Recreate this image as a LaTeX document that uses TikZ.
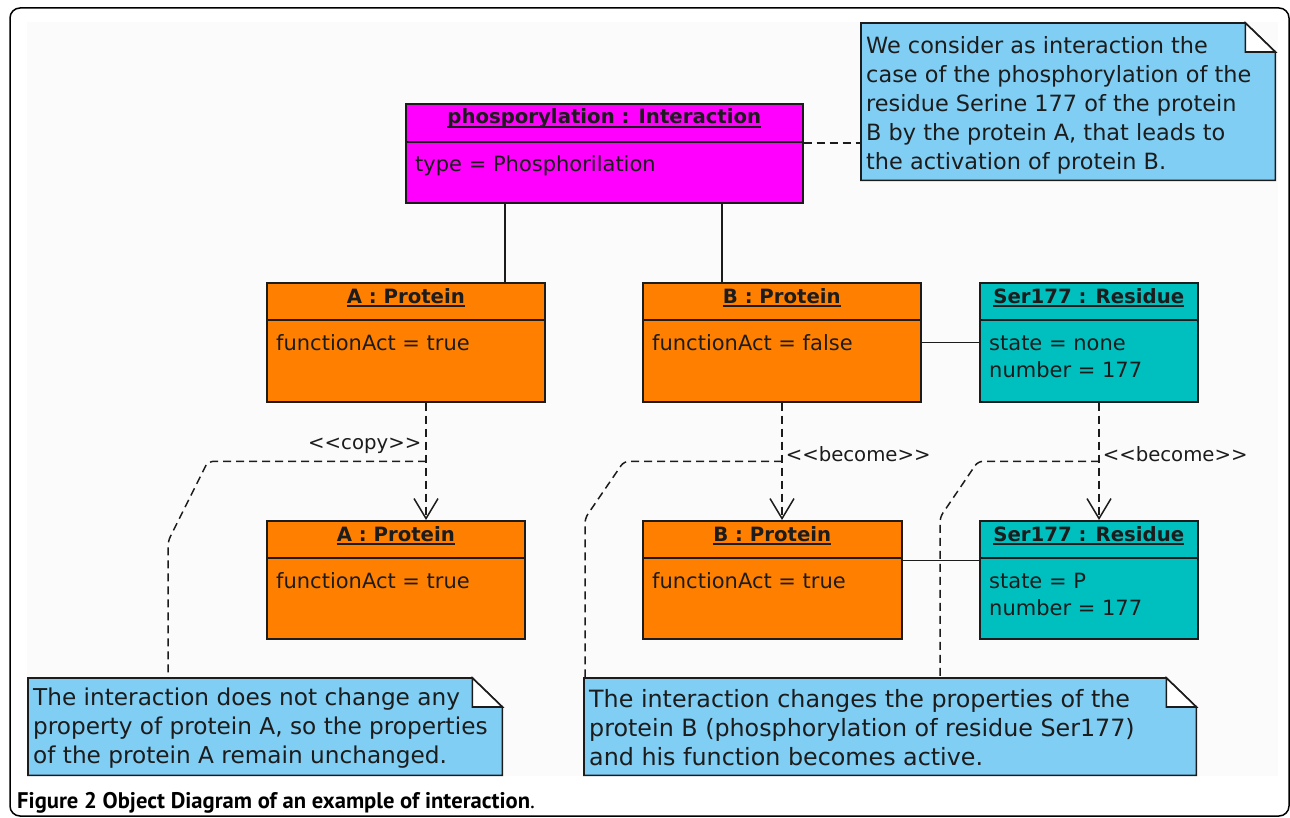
\documentclass[tikz,border=0pt]{standalone}
\usepackage{fontspec}
\setmainfont{DejaVu Sans}
\newfontfamily\capfont{PT Sans}
\usetikzlibrary{arrows.meta,calc}
\definecolor{umlmag}{RGB}{255,0,255}
\definecolor{umlorange}{RGB}{255,128,0}
\definecolor{umlteal}{RGB}{0,191,191}
\definecolor{notebg}{RGB}{128,206,244}
\definecolor{inkc}{RGB}{28,28,28}
\definecolor{pagebg}{RGB}{250,251,250}
\newcommand{\noteshape}[1]{%
  \path[fill=notebg,draw=inkc,line width=1.6pt,line join=miter]
    (#1.north west) -- ([xshift=-30pt]#1.north east) -- ([yshift=-29pt]#1.north east)
    -- (#1.south east) -- (#1.south west) -- cycle;
  \path[fill=white,draw=inkc,line width=1.6pt]
    ([xshift=-30pt]#1.north east) -- ([xshift=-30pt,yshift=-29pt]#1.north east)
    -- ([yshift=-29pt]#1.north east) -- cycle;}
\newcommand{\ulineof}[1]{%
  \draw[inkc,line width=1.3pt] ([yshift=-3pt]#1.base west) -- ([yshift=-3pt]#1.base east);}
\begin{document}
\begin{tikzpicture}[x=1pt,y=-1pt,
  objbox/.style={draw=inkc,line width=1.6pt,anchor=north west,inner sep=0pt,rectangle},
  notebox/.style={anchor=north west,inner sep=0pt,rectangle},
  divider/.style={draw=inkc,line width=1.6pt},
  ttl/.style={font=\bfseries\fontsize{19.7}{24}\selectfont,text=inkc,anchor=base,inner sep=0pt},
  attr/.style={font=\fontsize{21}{27}\selectfont,text=inkc,anchor=base west,inner sep=0pt},
  notetext/.style={font=\fontsize{22.4}{29}\selectfont,text=inkc,anchor=north west,inner sep=0pt,align=left},
  stereo/.style={font=\fontsize{19.7}{24}\selectfont,text=inkc,inner sep=0pt},
  link/.style={draw=inkc,line width=1.5pt},
  dep/.style={draw=inkc,line width=1.5pt,dash pattern=on 8pt off 5pt},
  deparrow/.style={dep,-{Straight Barb[length=20pt,width=24pt,line width=1.5pt]}}
]
\useasboundingbox (0,0) rectangle (1290,818);
% frame and page
\draw[line width=1.5pt,rounded corners=10pt] (10,8) rectangle (1289,816);
\fill[pagebg] (27,22) rectangle (1278,776);

% ---------- phosphorylation object
\node[objbox,fill=umlmag,minimum width=397pt,minimum height=99pt] (P) at (405,103) {};
\draw[divider] ([yshift=-39pt]P.north west) -- ([yshift=-39pt]P.north east);
\node[ttl] (Pt) at ([yshift=-21pt]P.north) {phosporylation : Interaction};
\ulineof{Pt}
\node[attr] (Pa) at ([xshift=10pt,yshift=-69pt]P.north west) {type = Phosphorilation};

% ---------- A : Protein (top)
\node[objbox,fill=umlorange,minimum width=278pt,minimum height=119pt] (A1) at (266,282) {};
\draw[divider] ([yshift=-38pt]A1.north west) -- ([yshift=-38pt]A1.north east);
\node[ttl] (A1t) at ([yshift=-21pt]A1.north) {A : Protein};
\ulineof{A1t}
\node[attr] (A1a) at ([xshift=10pt,yshift=-68pt]A1.north west) {functionAct = true};

% ---------- B : Protein (top)
\node[objbox,fill=umlorange,minimum width=278pt,minimum height=119pt] (B1) at (642,282) {};
\draw[divider] ([yshift=-38pt]B1.north west) -- ([yshift=-38pt]B1.north east);
\node[ttl] (B1t) at ([yshift=-21pt]B1.north) {B : Protein};
\ulineof{B1t}
\node[attr] (B1a) at ([xshift=10pt,yshift=-68pt]B1.north west) {functionAct = false};

% ---------- Ser177 : Residue (top)
\node[objbox,fill=umlteal,minimum width=218pt,minimum height=119pt] (S1) at (979,282) {};
\draw[divider] ([yshift=-38pt]S1.north west) -- ([yshift=-38pt]S1.north east);
\node[ttl] (S1t) at ([yshift=-21pt]S1.north) {Ser177 : Residue};
\ulineof{S1t}
\node[attr] (S1a) at ([xshift=10pt,yshift=-68pt]S1.north west) {state = none};
\node[attr] (S1b) at ([xshift=10pt,yshift=-95pt]S1.north west) {number = 177};

% ---------- A : Protein (bottom)
\node[objbox,fill=umlorange,minimum width=258pt,minimum height=118pt] (A2) at (266,520) {};
\draw[divider] ([yshift=-38pt]A2.north west) -- ([yshift=-38pt]A2.north east);
\node[ttl] (A2t) at ([yshift=-21pt]A2.north) {A : Protein};
\ulineof{A2t}
\node[attr] (A2a) at ([xshift=10pt,yshift=-68pt]A2.north west) {functionAct = true};

% ---------- B : Protein (bottom)
\node[objbox,fill=umlorange,minimum width=259pt,minimum height=118pt] (B2) at (642,520) {};
\draw[divider] ([yshift=-38pt]B2.north west) -- ([yshift=-38pt]B2.north east);
\node[ttl] (B2t) at ([yshift=-21pt]B2.north) {B : Protein};
\ulineof{B2t}
\node[attr] (B2a) at ([xshift=10pt,yshift=-68pt]B2.north west) {functionAct = true};

% ---------- Ser177 : Residue (bottom)
\node[objbox,fill=umlteal,minimum width=218pt,minimum height=118pt] (S2) at (979,520) {};
\draw[divider] ([yshift=-38pt]S2.north west) -- ([yshift=-38pt]S2.north east);
\node[ttl] (S2t) at ([yshift=-21pt]S2.north) {Ser177 : Residue};
\ulineof{S2t}
\node[attr] (S2a) at ([xshift=10pt,yshift=-68pt]S2.north west) {state = P};
\node[attr] (S2b) at ([xshift=10pt,yshift=-95pt]S2.north west) {number = 177};

% ---------- notes
\node[notebox,minimum width=414pt,minimum height=157pt] (N1) at (861,23) {};
\noteshape{N1}
\node[notetext] (N1t) at (866,36) {We consider as interaction the\\case of the phosphorylation of the\\residue Serine 177 of the protein\\B by the protein A, that leads to\\the activation of protein B.};

\node[notebox,minimum width=474pt,minimum height=97pt] (N2) at (28,678) {};
\noteshape{N2}
\node[notetext,font=\fontsize{23.2}{29}\selectfont] (N2t) at (33,688) {The interaction does not change any\\property of protein A, so the properties\\of the protein A remain unchanged.};

\node[notebox,minimum width=612pt,minimum height=97pt] (N3) at (584,678) {};
\noteshape{N3}
\node[notetext,font=\fontsize{23.8}{29}\selectfont] (N3t) at (589,689) {The interaction changes the properties of the\\protein B (phosphorylation of residue Ser177)\\and his function becomes active.};

% ---------- links
\draw[link] ([xshift=100pt]P.south west) -- ([xshift=239pt]A1.north west);
\draw[link] ([xshift=317pt]P.south west) -- ([xshift=80pt]B1.north west);
\draw[dep] ([yshift=10.5pt]P.east) -- ([yshift=10.5pt]P.east -| N1.west);
\draw[link] (B1.east) -- (S1.west);
\draw[link] ([yshift=19.5pt]B2.east) -- ([yshift=19.5pt]B2.east -| S2.west);

% ---------- dependencies
\draw[deparrow] ([xshift=160pt]A1.south west) -- ([xshift=160pt]A2.north west)
  node[stereo,pos=0.40,anchor=base east,xshift=-4pt] (lc) {<{}<copy>{}>}
  coordinate[pos=0.5] (cA);
\draw[deparrow] ([xshift=140pt]B1.south west) -- ([xshift=140pt]B2.north west)
  node[stereo,pos=0.50,anchor=base west,xshift=3pt] (lb) {<{}<become>{}>}
  coordinate[pos=0.5] (cB);
\draw[deparrow] ([xshift=120pt]S1.south west) -- ([xshift=120pt]S2.north west)
  node[stereo,pos=0.50,anchor=base west,xshift=3pt] (ls) {<{}<become>{}>}
  coordinate[pos=0.5] (cS);

% ---------- note anchors
\draw[dep,rounded corners=5pt] (cA) -- ++(-218,0) -- ++(-40,80) -- ([xshift=140pt]N2.north west);
\draw[dep,rounded corners=5pt] (cB) -- ++(-158,0) -- ++(-39,57) -- ([xshift=1pt]N3.north west);
\draw[dep,rounded corners=5pt] (cS) -- ++(-121,0) -- ++(-38,56) -- ([xshift=356pt]N3.north west);

% ---------- caption
\node[anchor=base west,inner sep=0pt,font=\capfont\fontsize{22.6}{26}\selectfont] (cap) at (17,808)
  {\textbf{Figure 2 Object Diagram of an example of interaction}.};
\end{tikzpicture}
\end{document}
